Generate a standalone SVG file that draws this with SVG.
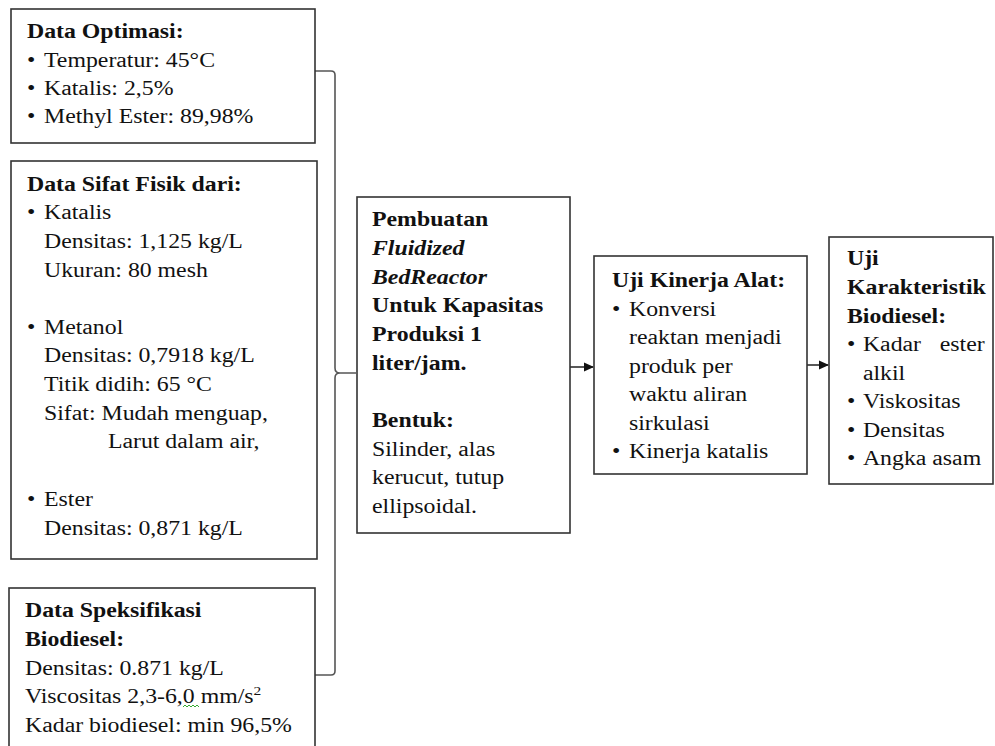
<svg xmlns="http://www.w3.org/2000/svg" width="995" height="746" viewBox="0 0 995 746">
<style>
.box{fill:#fff;stroke:#333;stroke-width:1.6}
text{font-family:"Liberation Serif","Times New Roman",serif;font-size:20px;fill:#111}
.b{font-weight:bold}
.i{font-style:italic;font-weight:bold}
.con{fill:none;stroke:#555;stroke-width:1.6}
.arr{fill:none;stroke:#111;stroke-width:1.4}
</style>
<defs>
<marker id="ah" markerWidth="10" markerHeight="10" refX="9" refY="5" orient="auto" markerUnits="userSpaceOnUse">
<path d="M0,0.5 L10,5 L0,9.5 Z" fill="#111"/>
</marker>
</defs>
<rect width="995" height="746" fill="#fff"/>

<g id="connectors">
<path class="con" d="M315,71 L331,71 Q335,71 335,75 L335,368 Q335,373 340,373 L356,373 M340,373 Q335,373 335,378 L335,671 Q335,675 331,675 L315,675"/>
<path class="arr" d="M570,367 L593,367" marker-end="url(#ah)"/>
<path class="arr" d="M807,365 L828,365" marker-end="url(#ah)"/>
</g>

<g id="data-optimasi">
<rect class="box" x="11" y="9" width="304" height="134"/>
<g transform="translate(27,0) scale(1.19,1)">
<text class="b" x="0" y="38">Data Optimasi:</text>
<text x="0" y="67">•</text><text x="14.3" y="67">Temperatur: 45°C</text>
<text x="0" y="95">•</text><text x="14.3" y="95">Katalis: 2,5%</text>
<text x="0" y="123">•</text><text x="14.3" y="123">Methyl Ester: 89,98%</text>
</g>
</g>

<g id="data-sifat-fisik">
<rect class="box" x="11" y="161" width="306" height="398"/>
<g transform="translate(27,0) scale(1.19,1)">
<text class="b" x="0" y="191">Data Sifat Fisik dari:</text>
<text x="0" y="219">•</text><text x="14.3" y="219">Katalis</text>
<text x="14.3" y="248">Densitas: 1,125 kg/L</text>
<text x="14.3" y="277">Ukuran: 80 mesh</text>
<text x="0" y="334">•</text><text x="14.3" y="334">Metanol</text>
<text x="14.3" y="362">Densitas: 0,7918 kg/L</text>
<text x="14.3" y="391">Titik didih: 65 °C</text>
<text x="14.3" y="420">Sifat: Mudah menguap,</text>
<text x="68" y="448">Larut dalam air,</text>
<text x="0" y="506">•</text><text x="14.3" y="506">Ester</text>
<text x="14.3" y="535">Densitas: 0,871 kg/L</text>
</g>
</g>

<g id="data-spesifikasi">
<rect class="box" x="9" y="588" width="306" height="180"/>
<g transform="translate(25,0) scale(1.19,1)">
<text class="b" x="0" y="617">Data Speksifikasi</text>
<text class="b" x="0" y="646">Biodiesel:</text>
<text x="0" y="675">Densitas: 0.871 kg/L</text>
<text x="0" y="703">Viscositas 2,3-6,0 mm/s<tspan font-size="13" dy="-8">2</tspan></text>
<text x="0" y="732">Kadar biodiesel: min 96,5%</text>
</g>
<path d="M183,707 l2,-2 l2,2 l2,-2 l2,2 l2,-2 l2,2 l2,-2 l2,2" fill="none" stroke="#3a3" stroke-width="1"/>
</g>

<g id="pembuatan">
<rect class="box" x="357" y="197" width="213" height="336"/>
<g transform="translate(372,0) scale(1.19,1)">
<text class="b" x="0" y="226">Pembuatan</text>
<text class="i" x="0" y="255">Fluidized</text>
<text class="i" x="0" y="284">BedReactor</text>
<text class="b" x="0" y="312">Untuk Kapasitas</text>
<text class="b" x="0" y="341">Produksi 1</text>
<text class="b" x="0" y="370">liter/jam.</text>
<text class="b" x="0" y="427">Bentuk:</text>
<text x="0" y="456">Silinder, alas</text>
<text x="0" y="484">kerucut, tutup</text>
<text x="0" y="513">ellipsoidal.</text>
</g>
</g>

<g id="uji-kinerja">
<rect class="box" x="594" y="256" width="213" height="218"/>
<g transform="translate(612,0) scale(1.19,1)">
<text class="b" x="0" y="287">Uji Kinerja  Alat:</text>
<text x="0" y="316">•</text><text x="14.3" y="316">Konversi</text>
<text x="14.3" y="344">reaktan menjadi</text>
<text x="14.3" y="373">produk per</text>
<text x="14.3" y="401">waktu aliran</text>
<text x="14.3" y="430">sirkulasi</text>
<text x="0" y="458">•</text><text x="14.3" y="458">Kinerja katalis</text>
</g>
</g>

<g id="uji-karakteristik">
<rect class="box" x="829" y="237" width="164" height="247"/>
<g transform="translate(847,0) scale(1.19,1)">
<text class="b" x="0" y="265">Uji</text>
<text class="b" x="0" y="294">Karakteristik</text>
<text class="b" x="0" y="323">Biodiesel:</text>
<text x="0" y="351">•</text><text x="13.4" y="351">Kadar</text><text x="78" y="351">ester</text>
<text x="13.4" y="380">alkil</text>
<text x="0" y="408">•</text><text x="13.4" y="408">Viskositas</text>
<text x="0" y="437">•</text><text x="13.4" y="437">Densitas</text>
<text x="0" y="465">•</text><text x="13.4" y="465">Angka asam</text>
</g>
</g>
</svg>
